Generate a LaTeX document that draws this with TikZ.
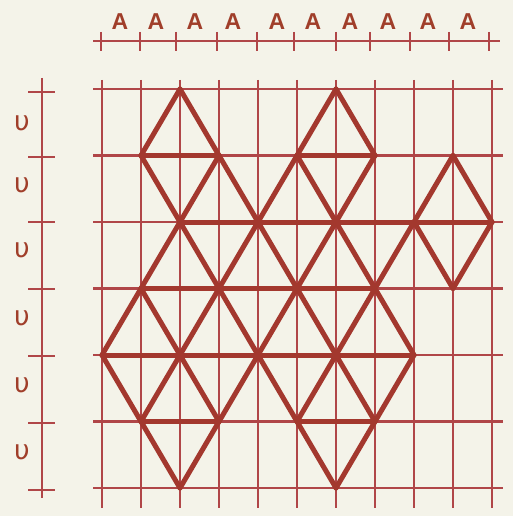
\documentclass[tikz,border=0pt]{standalone}
\usepackage{fontspec}
\setmainfont{DejaVu Sans}
\newfontfamily\afont{Liberation Sans}
\definecolor{paper}{RGB}{244,243,233}
\definecolor{gridred}{RGB}{176,70,72}
\definecolor{inkred}{RGB}{163,56,46}
\definecolor{labelred}{RGB}{160,62,42}
\tikzset{
  gridline/.style={draw=gridred, line width=2.3pt},
  axisline/.style={draw=gridred, line width=2.3pt},
  triline/.style={draw=inkred, line width=5pt, line cap=round, line join=round},
  alabel/.style={text=labelred, font=\afont\bfseries\fontsize{23}{23}\selectfont, inner sep=0pt},
  ulabel/.style={text=labelred, font=\fontsize{27}{27}\selectfont, inner sep=0pt},
}
\begin{document}
\begin{tikzpicture}[x=1pt,y=-1pt]
\fill[paper] (0,0) rectangle (513,516);
\useasboundingbox (0,0) rectangle (513,516);
% lattice points
\foreach \i in {0,...,10} {
  \foreach \j in {0,...,6} {
    \coordinate (p\i-\j) at ({102+39*\i},{89+66.5*\j});
  }
}
% thin grid
\foreach \i in {0,...,10} {
  \draw[gridline] ({102+39*\i},80) -- ({102+39*\i},508);
}
\foreach \j in {0,...,6} {
  \draw[gridline] (93,{89+66.5*\j}) -- (503,{89+66.5*\j});
}
% top axis
\draw[axisline] (93,41) -- (500,41);
\foreach \x in {101,140,176,217,257,294,336,370,410,449,489} {
  \draw[axisline] (\x,32) -- (\x,51);
}
\foreach \x/\n in {120/1,156/2,195/3,233/4,277/5,313/6,350/7,388/8,428/9,468/10} {
  \node[alabel] (a\n) at (\x,22) {A};
}
% left axis
\draw[axisline] (42,78) -- (42,498);
\foreach \y in {92,157,222,289,356,423,490} {
  \draw[axisline] (28,\y) -- (55,\y);
}
\foreach \y/\n in {123/1,185/2,250/3,318/4,385/5,452/6} {
  \node[ulabel] (u\n) at (22,\y) {υ};
}
% thick triangle pattern: horizontals
\foreach \a/\b in {p1-1/p3-1, p5-1/p7-1, p2-2/p10-2, p1-3/p7-3, p0-4/p8-4, p1-5/p3-5, p5-5/p7-5} {
  \draw[triline] (\a) -- (\b);
}
% diagonals
\foreach \a/\b in {
  p2-0/p1-1, p2-0/p3-1, p6-0/p5-1, p6-0/p7-1,
  p1-1/p2-2, p3-1/p2-2, p3-1/p4-2, p5-1/p4-2, p5-1/p6-2, p7-1/p6-2, p9-1/p8-2, p9-1/p10-2,
  p2-2/p1-3, p2-2/p3-3, p4-2/p3-3, p4-2/p5-3, p6-2/p5-3, p6-2/p7-3, p8-2/p7-3, p8-2/p9-3, p10-2/p9-3,
  p1-3/p0-4, p1-3/p2-4, p3-3/p2-4, p3-3/p4-4, p5-3/p4-4, p5-3/p6-4, p7-3/p6-4, p7-3/p8-4,
  p0-4/p1-5, p2-4/p1-5, p2-4/p3-5, p4-4/p3-5, p4-4/p5-5, p6-4/p5-5, p6-4/p7-5, p8-4/p7-5,
  p1-5/p2-6, p3-5/p2-6, p5-5/p6-6, p7-5/p6-6} {
  \draw[triline] (\a) -- (\b);
}
\end{tikzpicture}
\end{document}
